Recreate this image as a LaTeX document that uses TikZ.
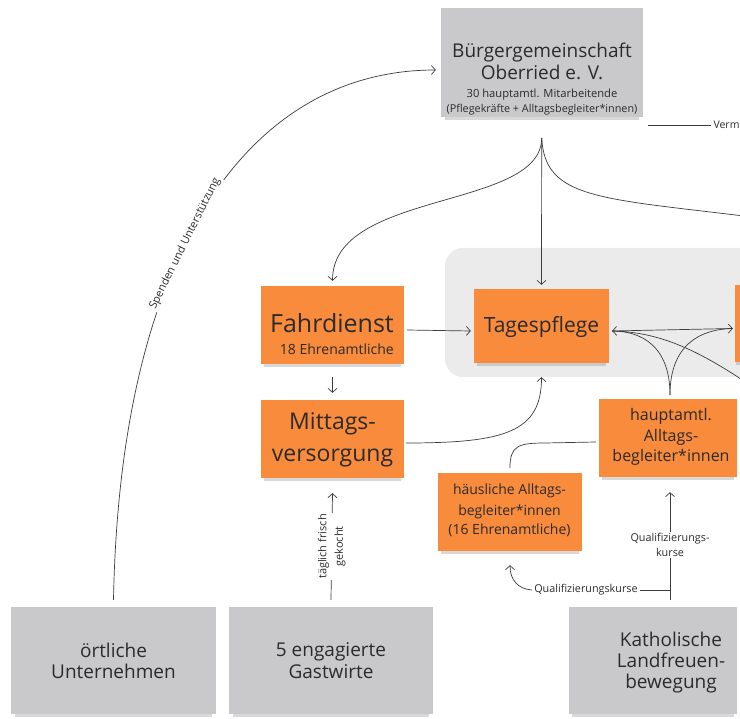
\documentclass[tikz,border=0pt]{standalone}
\usepackage{fontspec}
\setmainfont{Open Sans}
\usetikzlibrary{arrows.meta,shadows}
\definecolor{orangeN}{HTML}{F98B3C}
\definecolor{greyN}{HTML}{C9C9CC}
\definecolor{groupbg}{HTML}{EBEBEB}
\definecolor{lineC}{HTML}{3C3C3C}
\definecolor{textC}{HTML}{2B2B2B}
\newcommand\fsz[1]{\fontsize{#1pt}{#1pt}\selectfont}
\newcommand\fszl[2]{\fontsize{#1pt}{#2pt}\selectfont}
\begin{document}
\begin{tikzpicture}[x=1pt,y=-1pt,
  shad/.style={drop shadow={shadow xshift=0pt,shadow yshift=-5pt,shadow scale=0.96,opacity=0.3}},
  note/.style={fill=orangeN,draw=none,inner sep=0pt,shad},
  gbox/.style={fill=greyN,draw=none,inner sep=0pt,shad},
  tl/.style={anchor=base,inner sep=0pt,text=textC},
  lab/.style={fill=white,inner sep=1.5pt,text=textC,font=\fsz{10}},
  con/.style={draw=lineC,line width=0.7pt},
  arr/.style={con,-{Straight Barb[length=4pt,width=9pt]}},
  arrb/.style={con,{Straight Barb[length=4pt,width=9pt]}-{Straight Barb[length=4pt,width=9pt]}}]
\useasboundingbox (0,0) rectangle (740,719);
\clip (0,0) rectangle (740,719);
\fill[white] (0,0) rectangle (740,719);
% group background
\fill[groupbg,rounded corners=18pt] (445,248) rectangle (800,377);
% boxes
\node[gbox,minimum width=202pt,minimum height=109pt] (top) at (542,62.5) {};
\node[note,minimum width=143pt,minimum height=78pt] (fahr) at (332.5,325) {};
\node[note,minimum width=135pt,minimum height=74pt] (tages) at (541.5,326) {};
\node[note,minimum width=60pt,minimum height=77pt] (rightbox) at (765,323.5) {};
\node[note,minimum width=143pt,minimum height=78pt] (mitt) at (332.5,439) {};
\node[note,minimum width=138pt,minimum height=78pt] (haupt) at (668,438) {};
\node[note,minimum width=144pt,minimum height=78pt] (haeus) at (510,512) {};
\node[gbox,minimum width=205pt,minimum height=107pt] (ort) at (113.5,660.5) {};
\node[gbox,minimum width=204pt,minimum height=107pt] (gast) at (331,660.5) {};
\node[gbox,minimum width=168pt,minimum height=107pt] (kath) at (653,660.5) {};
% texts
\node[tl,font=\fsz{19}] (t1) at (542,58) {Bürgergemeinschaft};
\node[tl,font=\fsz{19}] (t2) at (542,80) {Oberried e. V.};
\node[tl,font=\fsz{11.2}] (t3) at (542,98) {30 hauptamtl. Mitarbeitende};
\node[tl,font=\fsz{10.8}] (t4) at (542,113) {(Pflegekräfte + Alltagsbegleiter*innen)};
\node[tl,anchor=base east,font=\fsz{25}] (f1) at (394,333) {Fahrdienst};
\node[tl,anchor=base east,font=\fsz{14}] (f2) at (394,355) {18 Ehrenamtliche};
\node[tl,font=\fsz{21}] (tp) at (541.5,333) {Tagespflege};
\node[tl,font=\fsz{23}] (m1) at (332.5,430) {Mittags-};
\node[tl,font=\fsz{23}] (m2) at (332.5,462) {versorgung};
\node[tl,font=\fsz{16}] (h1) at (671,421) {hauptamtl.};
\node[tl,font=\fsz{16}] (h2) at (671,442) {Alltags-};
\node[tl,font=\fsz{16}] (h3) at (671,462) {begleiter*innen};
\node[tl,font=\fsz{14}] (a1) at (509.5,495) {häusliche Alltags-};
\node[tl,font=\fsz{14}] (a2) at (509.5,516) {begleiter*innen};
\node[tl,font=\fsz{14}] (a3) at (509.5,535) {(16 Ehrenamtliche)};
\node[tl,font=\fsz{19}] (o1) at (113.5,657) {örtliche};
\node[tl,font=\fsz{19}] (o2) at (113.5,678) {Unternehmen};
\node[tl,font=\fsz{19}] (g1) at (331,656) {5 engagierte};
\node[tl,font=\fsz{19}] (g2) at (331,678) {Gastwirte};
\node[tl,font=\fsz{19}] (k1) at (671,646) {Katholische};
\node[tl,font=\fsz{19}] (k2) at (671,667) {Landfreuen-};
\node[tl,font=\fsz{19}] (k3) at (671,688) {bewegung};
% coordinates
\coordinate (fanT) at (541.7,138);
\coordinate (offR1) at (760,218);
\coordinate (offR2) at (760,392);
\coordinate (tagesR) at ([xshift=3pt,yshift=-5pt]tages.east);
\coordinate (rightL) at ([xshift=-2pt,yshift=-5pt]rightbox.west);
\coordinate (fanH) at ([xshift=2pt,yshift=4pt]haupt.north);
\coordinate (qv) at (670,600);
\coordinate (qh) at (670,590);
\coordinate (vermS) at ([xshift=5pt,yshift=-8pt]top.south east);
% connectors
\draw[arr] ([yshift=7pt]ort.north) .. controls (120,250) and (250,70) .. ([xshift=-5pt,yshift=-7.5pt]top.west)
  node[pos=0.43,sloped,lab,font=\fsz{11}] (spl) {Spenden und Unterstützung};
\draw[arr] (fanT) -- ([yshift=4pt]tages.north);
\draw[arr] (fanT) .. controls (541.7,210) and (332.5,190) .. ([yshift=5pt]fahr.north);
\draw[con] (fanT) .. controls (545,200) and (600,198) .. (offR1);
\draw[con] (vermS) -- ++(63,0) node[right,inner sep=2pt,text=textC,font=\fsz{10.5}] (verm) {Verm};
\draw[arr] ([xshift=3pt,yshift=-5pt]fahr.east) -- ([xshift=-3pt,yshift=-5pt]tages.west);
\draw[arr] ([yshift=-13pt]fahr.south) -- ([yshift=7pt]mitt.north);
\draw[arr] ([xshift=2pt,yshift=-4pt]mitt.east) .. controls (505,443) and (541.5,432) .. ([yshift=-14pt]tages.south);
\draw[arrb] (tagesR) -- (rightL);
\draw[con] (fanH) .. controls (670,345) and (640,331) .. (tagesR);
\draw[con] (fanH) .. controls (670,345) and (700,329) .. (rightL);
\draw[con] (tagesR) .. controls (660,332) and (700,350) .. (offR2);
\draw[con] ([yshift=5pt]haeus.north) .. controls (510,446) and (518,443) .. (545,443) -- ([xshift=-3pt,yshift=-4pt]haupt.west);
\draw[arr] (qv) -- ([yshift=-15pt]haupt.south -| qv)
  node[pos=0.51,lab,align=center,font=\fszl{10.8}{15.5}] (ql1) {Qualifizierungs-\\kurse};
\draw[con] (qh) -- ++(-30,0) node[left,lab,inner sep=2pt,font=\fsz{10.8}] (ql2) {Qualifizierungskurse};
\draw[arr] (ql2.west) .. controls (518,589) and (510,580) .. ([yshift=-14pt]haeus.south);
\draw[arr] ([yshift=7pt]gast.north) -- ([yshift=-15pt]mitt.south)
  node[midway,rotate=90,lab,align=center,font=\fszl{11}{16.5}] (tfg) {täglich frisch\\gekocht};
\end{tikzpicture}
\end{document}
